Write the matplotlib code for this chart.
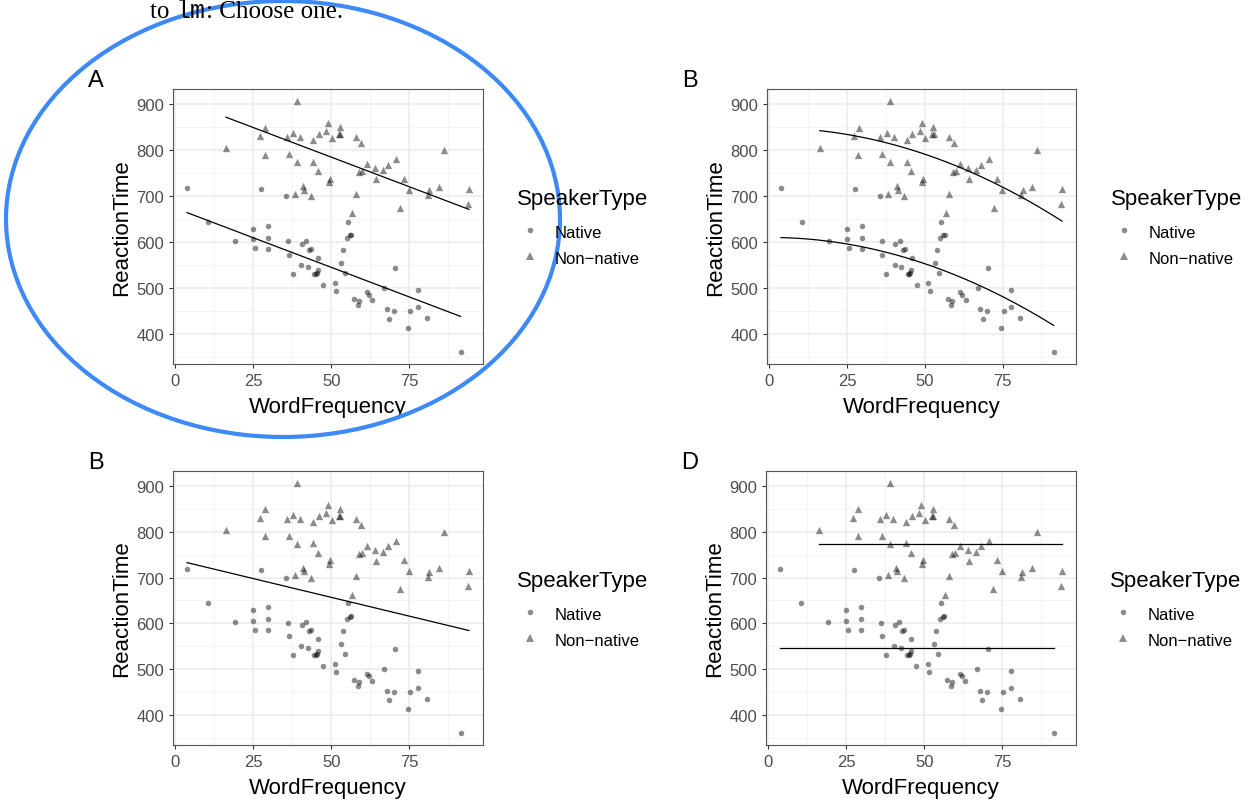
import matplotlib
matplotlib.use('Agg')
import matplotlib.pyplot as plt
from matplotlib.patches import Ellipse
from matplotlib.lines import Line2D
import numpy as np

plt.rcParams['font.family'] = ['Liberation Sans', 'DejaVu Sans']

# (WordFrequency, ReactionTime)
native_x = [3.7, 10.5, 19.0, 24.8, 24.8, 25.6, 29.6, 29.6, 29.7, 27.5, 35.5, 36.1, 36.3,
            37.6, 40.3, 40.5, 41.9, 42.4, 42.8, 43.6, 44.5, 45.3, 45.6, 45.8, 45.0, 47.4,
            51.1, 51.5, 53.2, 53.8, 54.4, 54.9, 55.8, 56.3, 55.3, 57.3, 58.4, 58.7, 61.3,
            62.0, 63.1, 67.0, 67.7, 68.6, 70.3, 70.1, 74.5, 75.3, 77.6, 77.6, 80.5, 91.4]
native_y = [718, 644, 603, 629, 606, 586, 635, 609, 585, 716, 699, 601, 572,
            530, 550, 596, 602, 546, 583, 585, 531, 532, 539, 565, 530, 506,
            510, 494, 555, 583, 533, 609, 614, 615, 644, 476, 463, 471, 490,
            485, 474, 500, 453, 432, 544, 450, 412, 450, 458, 495, 435, 361]
nonnative_x = [38.9, 16.2, 28.8, 27.2, 28.6, 35.7, 37.7, 40.0, 36.3, 38.9, 44.1, 45.9,
               49.0, 48.3, 50.1, 52.6, 52.4, 52.8, 44.1, 45.6, 49.4, 49.2, 57.8, 59.4,
               40.9, 41.3, 38.2, 43.4, 57.8, 56.7, 61.3, 59.0, 59.9, 64.0, 64.2, 66.4,
               68.2, 70.7, 73.3, 74.8, 72.1, 81.4, 81.0, 84.6, 86.1, 94.1, 93.8]
nonnative_y = [906, 804, 849, 830, 790, 828, 837, 828, 791, 774, 822, 835,
               859, 841, 826, 851, 835, 834, 775, 754, 738, 730, 828, 816,
               722, 714, 705, 699, 704, 663, 770, 752, 754, 761, 736, 756,
               768, 780, 738, 714, 674, 712, 702, 720, 800, 715, 682]

panel_labels = ['A', 'B', 'B', 'D']
fit_kinds = ['additive', 'squared', 'pooled', 'means']

nx = np.array(native_x, float)
ny = np.array(native_y, float)
mx = np.array(nonnative_x, float)
my = np.array(nonnative_y, float)
allx = np.concatenate([nx, mx])
ally = np.concatenate([ny, my])
grp = np.concatenate([np.zeros(len(nx)), np.ones(len(mx))])

W, H = 1249, 803
fig = plt.figure(figsize=(W / 100, H / 100), dpi=100)

boxes = [(173, 90, 310, 275), (767, 90, 309, 275),
         (173, 472, 310, 274), (766, 472, 310, 274)]


def fit_lines(kind):
    out = []
    if kind == 'additive':
        # RT ~ WF + SpeakerType
        X = np.column_stack([np.ones_like(allx), allx, grp])
        b = np.linalg.lstsq(X, ally, rcond=None)[0]
        for xs, g in [(nx, 0), (mx, 1)]:
            xx = np.linspace(xs.min(), xs.max(), 50)
            out.append((xx, b[0] + b[1] * xx + b[2] * g))
    elif kind == 'squared':
        # RT ~ I(WF^2) + SpeakerType
        X = np.column_stack([np.ones_like(allx), allx ** 2, grp])
        b = np.linalg.lstsq(X, ally, rcond=None)[0]
        for xs, g in [(nx, 0), (mx, 1)]:
            xx = np.linspace(xs.min(), xs.max(), 80)
            out.append((xx, b[0] + b[1] * xx ** 2 + b[2] * g))
    elif kind == 'pooled':
        b = np.polyfit(allx, ally, 1)
        xx = np.linspace(allx.min(), allx.max(), 50)
        out.append((xx, np.polyval(b, xx)))
    else:
        for xs, ys in [(nx, ny), (mx, my)]:
            xx = np.array([xs.min(), xs.max()])
            out.append((xx, np.full(2, ys.mean())))
    return out


for (l, t, w, h), lab, kind in zip(boxes, panel_labels, fit_kinds):
    ax = fig.add_axes([l / W, 1 - (t + h) / H, w / W, h / H])
    ax.set_xlim(-0.8, 98.6)
    ax.set_ylim(334, 933)
    ax.set_xticks([0, 25, 50, 75])
    ax.set_yticks([400, 500, 600, 700, 800, 900])
    ax.set_xticks([12.5, 37.5, 62.5, 87.5], minor=True)
    ax.set_yticks([350, 450, 550, 650, 750, 850], minor=True)
    ax.grid(True, which='major', color='#ebebeb', lw=1.1)
    ax.grid(True, which='minor', color='#f2f2f2', lw=0.6)
    ax.set_axisbelow(True)
    for s in ax.spines.values():
        s.set_color('#555555')
        s.set_linewidth(0.8)
    ax.tick_params(which='major', length=3, width=0.8, color='#333333',
                   labelcolor='#4d4d4d', labelsize=12, pad=3.5)
    ax.tick_params(which='minor', length=0)

    ax.scatter(nx, ny, s=16, marker='o', color='black', alpha=0.45, linewidths=0)
    ax.scatter(mx, my, s=28, marker='^', color='black', alpha=0.45, linewidths=0)
    for xx, yy in fit_lines(kind):
        ax.plot(xx, yy, color='black', lw=0.9)

    ax.set_xlabel('WordFrequency', fontsize=16, labelpad=6)
    ax.set_ylabel('ReactionTime', fontsize=16, labelpad=3)

    # legend: title as its own text, keys below it
    lx = (l + 344) / W
    fig.text(lx, 1 - (t + 115) / H, 'SpeakerType', fontsize=16,
             ha='left', va='baseline')
    handles = [Line2D([], [], marker='o', ls='none', color='black', alpha=0.45,
                      markersize=4, markeredgewidth=0),
               Line2D([], [], marker='^', ls='none', color='black', alpha=0.45,
                      markersize=5.5, markeredgewidth=0)]
    fig.legend(handles, ['Native', 'Non\u2212native'], loc='upper left',
               bbox_to_anchor=(lx, 1 - (t + 133) / H), frameon=False,
               fontsize=12, handlelength=1.6, handleheight=1.4,
               handletextpad=0.65, labelspacing=0.4, borderpad=0,
               borderaxespad=0)

    fig.text((l - 85) / W, 1 - (t - 3) / H, lab, fontsize=17, ha='left',
             va='baseline')

# the circled choice and the question text above it
fig.add_artist(Ellipse((283 / W, 1 - 220 / H), 554 / W, 436 / H,
                       transform=fig.transFigure, fill=False,
                       edgecolor='#3d8af7', lw=3))

renderer = fig.canvas.get_renderer()
xpos = 150
for piece, fam in [('to ', 'Liberation Serif'), ('lm', 'Liberation Mono'),
                   (': Choose one.', 'Liberation Serif')]:
    tx = fig.text(xpos / W, 1 - 18 / H, piece, fontsize=18,
                  family=[fam, 'DejaVu Serif'], ha='left', va='baseline')
    xpos += tx.get_window_extent(renderer).width

fig.savefig('out.png', dpi=100)
